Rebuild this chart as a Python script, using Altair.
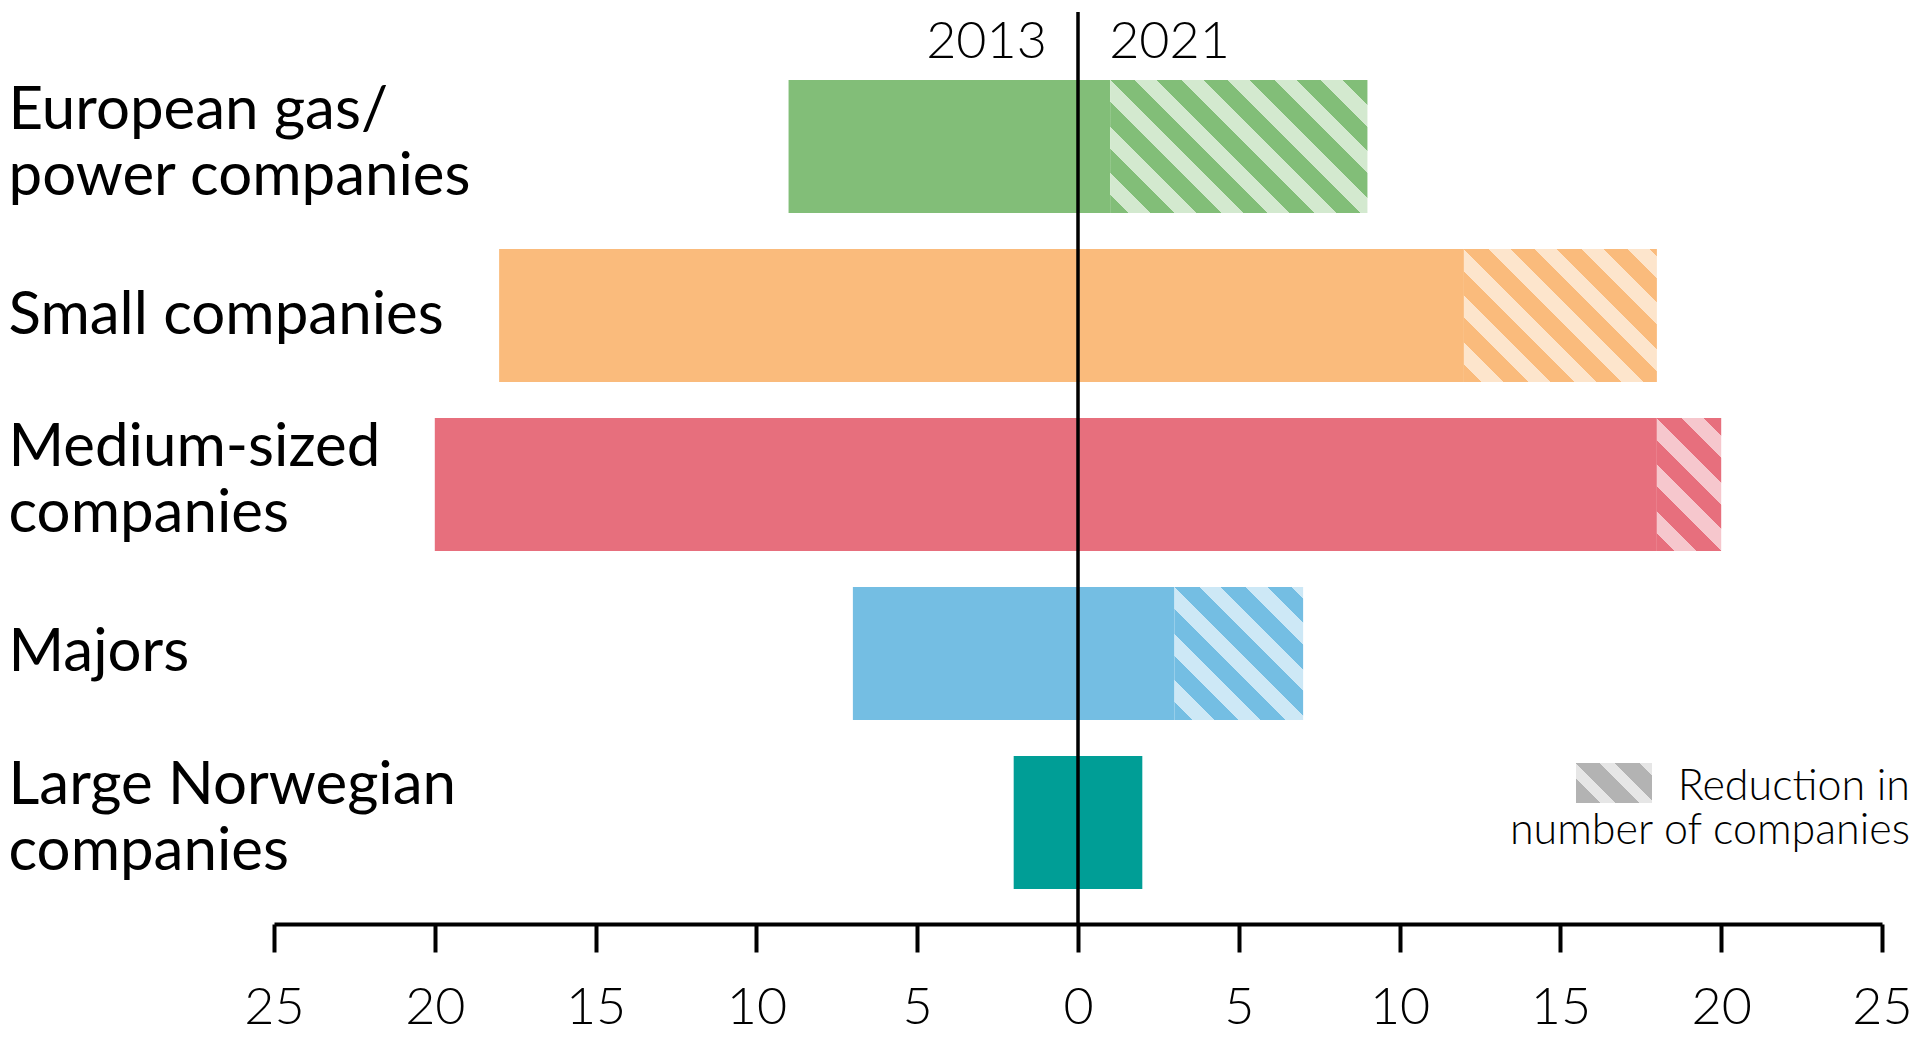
import math
import pandas as pd
import altair as alt

# ---------------- data ----------------
categories = [
    "European gas/ power companies",
    "Small companies",
    "Medium-sized companies",
    "Majors",
    "Large Norwegian companies",
]
label_lines = [
    ["European gas/", "power companies"],
    ["Small companies"],
    ["Medium-sized", "companies"],
    ["Majors"],
    ["Large Norwegian", "companies"],
]
count_2013 = [9, 18, 20, 7, 2]
count_2021 = [1, 12, 18, 3, 2]
bar_colors = ["#82BE78", "#FABB7C", "#E76F7D", "#74BEE3", "#009E96"]
hatch_colors = ["#D3E9CF", "#FDE5CC", "#F6C7CD", "#CDE8F6", "#B3E2DF"]
x_ticks = [-25, -20, -15, -10, -5, 0, 5, 10, 15, 20, 25]
year_labels = ["2013", "2021"]
legend_lines = ["Reduction in", "number of companies"]
legend_colors = ["#B3B3B3", "#E6E6E6"]

# ---------------- layout ----------------
PAD_L, PAD_T, PAD_R, PAD_B = 266, 4, 30, 110
W_PLOT, H_PLOT = 1608, 912
PI, PO, ALIGN = 0.213, 0.305, 0.66
STEP = H_PLOT / (len(categories) - PI + 2 * PO)
BAND = STEP * (1 - PI)
PX_PER_UNIT = W_PLOT / 50.0
LINE_H = 66

NUM_FONT = "Lato"
CAT_FONT = "Lato"

df = pd.DataFrame({
    "category": categories,
    "left": [-v for v in count_2013],
    "zero": [0] * len(categories),
    "right": count_2021,
    "total": count_2013,
})


def hatch_fill(W, H, base, light, P, L, phase=0.0):
    """Diagonal stripes (top-left to bottom-right) as a hard-stop linear gradient.
    s = x - y (pixels from the rect's top-left corner); base colour on
    [phase + kP, phase + kP + P - L), light colour on the rest."""
    total = W + H
    segs = []
    k = math.floor((-H - phase) / P) - 1
    while phase + k * P - L < W:
        segs.append((phase + k * P - L, phase + k * P, light))
        segs.append((phase + k * P, phase + (k + 1) * P - L, base))
        k += 1
    stops = []
    for s0, s1, col in segs:
        a, b = max(s0, -H), min(s1, W)
        if b <= a:
            continue
        stops.append(alt.GradientStop(color=col, offset=round((a + H) / total, 5)))
        stops.append(alt.GradientStop(color=col, offset=round((b + H) / total, 5)))
    c = total / (W * W + H * H)
    return alt.LinearGradient(gradient="linear", stops=stops,
                              x1=0, y1=1, x2=round(W * c, 6), y2=round(1 - H * c, 6))


def js_str(s):
    return "'" + s + "'"


def js_list(items):
    return "[" + ", ".join(js_str(i) for i in items) + "]"


label_expr = "datum.label"
for cat, lines in reversed(list(zip(categories, label_lines))):
    label_expr = f"datum.label === {js_str(cat)} ? {js_list(lines)} : ({label_expr})"
two_line = [c for c, l in zip(categories, label_lines) if len(l) > 1]

x_scale = alt.Scale(domain=[-25, 25], nice=False, zero=False)
y_scale = alt.Scale(domain=categories, paddingInner=PI, paddingOuter=PO, align=ALIGN)

x_axis = alt.Axis(
    title=None, values=x_ticks, labelExpr="abs(datum.value)", grid=False,
    domainColor="#000000", domainWidth=4, tickColor="#000000", tickWidth=4, tickSize=28,
    labelPadding=30, labelFont=NUM_FONT, labelFontWeight=300, labelFontSize=52,
    labelColor="#000000", labelFlush=False, labelOverlap=False,
)
y_axis = alt.Axis(
    title=None, domain=False, ticks=False, tickSize=0, grid=False,
    labelAlign="left", labelBaseline="middle", labelPadding=PAD_L, labelLimit=900,
    labelFont=CAT_FONT, labelFontSize=60, labelLineHeight=LINE_H, labelColor="#000000",
    labelExpr=label_expr,
    labelOffset={
        "condition": {"test": f"indexof({js_list(two_line)}, datum.value) >= 0", "value": -36},
        "value": 0,
    },
)


def xf(field):
    return alt.X(field, scale=x_scale, axis=x_axis)


def yf():
    return alt.Y("category:N", scale=y_scale, axis=y_axis)


def xd(value):
    return alt.XDatum(value, scale=x_scale, axis=x_axis)


color_enc = alt.Color("category:N", scale=alt.Scale(domain=categories, range=bar_colors), legend=None)

left_bars = alt.Chart(df).mark_bar().encode(
    x=xf("left:Q"), x2="zero:Q", y=yf(), color=color_enc,
)
right_bars = alt.Chart(df).mark_bar().encode(
    x=xf("zero:Q"), x2="right:Q", y=yf(), color=color_enc,
)

layers = [left_bars, right_bars]
for i, cat in enumerate(categories):
    red = count_2013[i] - count_2021[i]
    if red <= 0:
        continue
    grad = hatch_fill(red * PX_PER_UNIT, BAND, bar_colors[i], hatch_colors[i], 46.5, 22)
    layers.append(
        alt.Chart(df[df["category"] == cat]).mark_bar(fill=grad).encode(
            x=xf("right:Q"), x2="total:Q", y=yf(),
        )
    )

blank = alt.Data(values=[{}])
zero_rule = alt.Chart(blank).mark_rule(color="#000000", strokeWidth=3.5).encode(x=xd(0))
year_left = alt.Chart(blank).mark_text(
    text=year_labels[0], align="right", baseline="alphabetic", dx=1,
    font=NUM_FONT, fontWeight=300, fontSize=52, color="#000000",
).encode(x=xd(-1), y=alt.value(46))
year_right = alt.Chart(blank).mark_text(
    text=year_labels[1], align="left", baseline="alphabetic", dx=-1,
    font=NUM_FONT, fontWeight=300, fontSize=52, color="#000000",
).encode(x=xd(1), y=alt.value(46))

swatch = alt.Chart(blank).mark_rect(
    fill=hatch_fill(76, 40, legend_colors[0], legend_colors[1], 40, 15, phase=-1)
).encode(x=alt.value(1302), x2=alt.value(1378), y=alt.value(751), y2=alt.value(791))
leg1 = alt.Chart(blank).mark_text(
    text=legend_lines[0], align="right", baseline="alphabetic",
    font=NUM_FONT, fontWeight=300, fontSize=43, color="#000000",
).encode(x=alt.value(W_PLOT + PAD_R - 2), y=alt.value(788))
leg2 = alt.Chart(blank).mark_text(
    text=legend_lines[1], align="right", baseline="alphabetic",
    font=NUM_FONT, fontWeight=300, fontSize=43, color="#000000",
).encode(x=alt.value(W_PLOT + PAD_R - 2), y=alt.value(832))

layers += [zero_rule, year_left, year_right, swatch, leg1, leg2]

chart = alt.layer(*layers).properties(
    width=W_PLOT, height=H_PLOT,
    autosize=alt.AutoSizeParams(type="none"),
    padding={"left": PAD_L, "top": PAD_T, "right": PAD_R, "bottom": PAD_B},
    background="#FFFFFF",
).configure_view(stroke=None)

chart.save("out.html", embed_options={"renderer": "svg", "actions": False})
